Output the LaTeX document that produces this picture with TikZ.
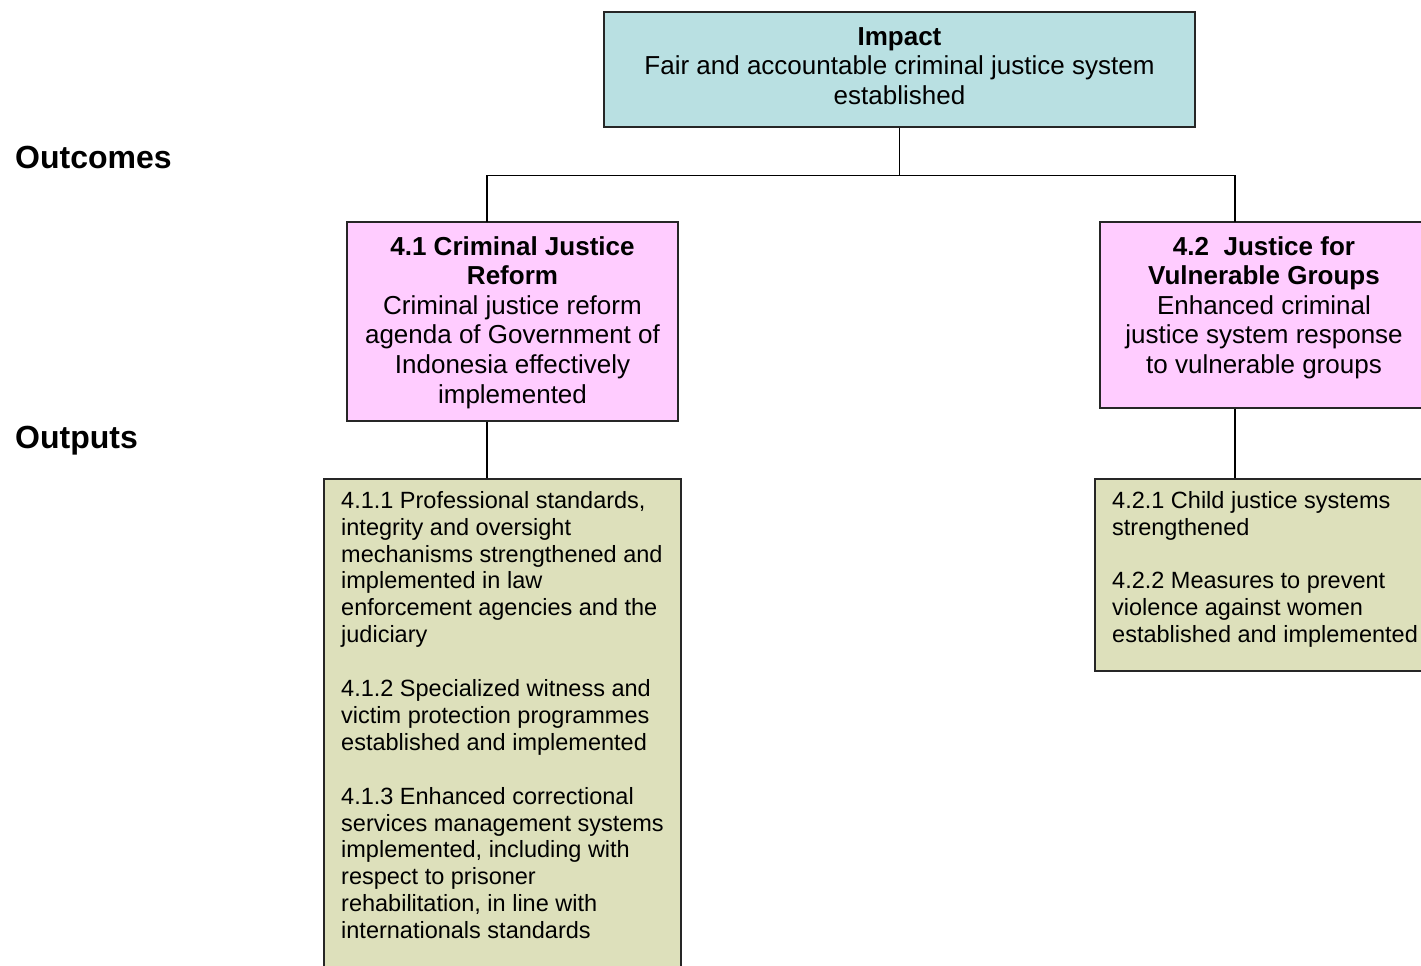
\documentclass[tikz,border=0pt]{standalone}
\usepackage{fontspec}
\setmainfont{Liberation Sans}
\definecolor{impactblue}{RGB}{185,224,226}
\definecolor{outpink}{RGB}{255,204,255}
\definecolor{outolive}{RGB}{221,224,187}
\begin{document}
\begin{tikzpicture}[x=1pt,y=-1pt,
  boxbase/.style={draw=black!85,line width=1.2pt,inner sep=0pt},
  bigtext/.style={font=\fontsize{26}{29.6}\selectfont,inner sep=0pt,align=center},
  smalltext/.style={font=\fontsize{23.5}{26.9}\selectfont,inner sep=0pt,align=left,anchor=north west},
  levellabel/.style={font=\fontsize{32}{36}\selectfont\bfseries,inner sep=0pt,anchor=base west},
  conn/.style={line width=1.6pt,black}]
\useasboundingbox (0,0) rectangle (1421,966);
\clip (0,0) rectangle (1421,966);
\fill[white] (0,0) rectangle (1421,966);
% boxes
\node[boxbase,fill=impactblue,minimum width=591pt,minimum height=115pt] (imp) at (899.5,69.5) {};
\node[boxbase,fill=outpink,minimum width=331pt,minimum height=199pt] (o41) at (512.5,321.5) {};
\node[boxbase,fill=outpink,minimum width=328pt,minimum height=186pt] (o42) at (1264,315) {};
\node[boxbase,fill=outolive,minimum width=357pt,minimum height=521pt] (p41) at (502.5,739.5) {};
\node[boxbase,fill=outolive,minimum width=345pt,minimum height=192pt] (p42) at (1267.5,575) {};
% texts
\node[bigtext] (impt) at (899.5,66) {\textbf{Impact}\\Fair and accountable criminal justice system\\established};
\node[bigtext,anchor=north] (o41t) at (512.5,236) {\textbf{4.1 Criminal Justice}\\\textbf{Reform}\\Criminal justice reform\\agenda of Government of\\Indonesia effectively\\implemented};
\node[bigtext,anchor=north] (o42t) at (1264,236) {\textbf{4.2\ \ Justice for}\\\textbf{Vulnerable Groups}\\Enhanced criminal\\justice system response\\to vulnerable groups};
\node[smalltext] (p41t) at (341,491) {4.1.1 Professional standards,\\integrity and oversight\\mechanisms strengthened and\\implemented in law\\enforcement agencies and the\\judiciary\\[26.9pt]4.1.2 Specialized witness and\\victim protection programmes\\established and implemented\\[26.9pt]4.1.3 Enhanced correctional\\services management systems\\implemented, including with\\respect to prisoner\\rehabilitation, in line with\\internationals standards};
\node[smalltext] (p42t) at (1112,491) {4.2.1 Child justice systems\\strengthened\\[26.9pt]4.2.2 Measures to prevent\\violence against women\\established and implemented};
\node[levellabel] (lblout) at (15,168) {Outcomes};
\node[levellabel] (lblput) at (15,448) {Outputs};
% connectors
\coordinate (c41) at (487,222);
\coordinate (c42) at (1235,222);
\draw[conn] (imp.south) -- ++(0,48) -| (c41);
\draw[conn] (imp.south) -- ++(0,48) -| (c42);
\draw[conn] (o41.south -| c41) -- (p41.north -| c41);
\draw[conn] (o42.south -| c42) -- (p42.north -| c42);
\end{tikzpicture}
\end{document}
